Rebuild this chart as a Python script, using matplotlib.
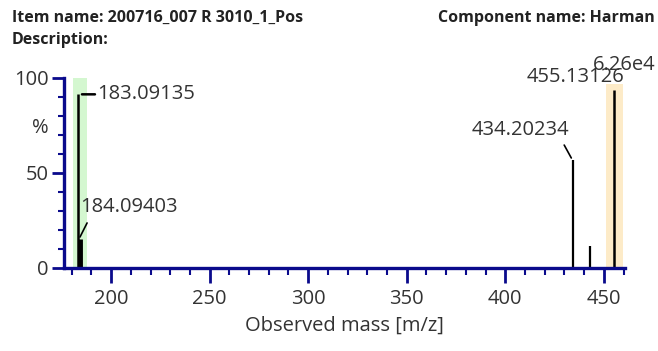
import matplotlib
matplotlib.use("Agg")
import matplotlib.pyplot as plt
from matplotlib.ticker import MultipleLocator

plt.rcParams["font.family"] = ["Open Sans", "DejaVu Sans"]

# peak list
peak_mz = [183.09135, 184.09403, 434.20234, 443.1, 455.13126]
peak_pct = [91.5, 15.0, 56.8, 11.7, 93.7]
peak_lw = [1.8, 3.5, 1.6, 1.6, 1.8]

label_mz = ["183.09135", "184.09403", "434.20234", "455.13126"]

# highlighted windows
green_win = (180.5, 187.6)
orange_win = (451.2, 459.6)

x_lim = (176.1, 460.8)
x_major = [200, 250, 300, 350, 400, 450]
y_major = [0, 50, 100]

navy = "#0a0a8c"
txt = "#333333"
fs = 14.5

fig = plt.figure(figsize=(6.58, 3.51), dpi=100)
ax = fig.add_axes([0.0973, 0.2365, 0.8527, 0.5413])

ax.axvspan(*green_win, ymin=0, ymax=1.0, color="#d4f7d0", lw=0, zorder=0)
ax.axvspan(*orange_win, ymin=0, ymax=0.97, color="#fdebc8", lw=0, zorder=0)

for mz, pct, lw in zip(peak_mz, peak_pct, peak_lw):
  ax.vlines(mz, 0, pct, color="black", lw=lw, zorder=2)

ax.set_xlim(*x_lim)
ax.set_ylim(0, 100)

for s in ["top", "right"]:
  ax.spines[s].set_visible(False)
for s in ["left", "bottom"]:
  ax.spines[s].set_color(navy)
  ax.spines[s].set_linewidth(2.4)
  ax.spines[s].set_zorder(3)

ax.set_xticks(x_major)
ax.xaxis.set_minor_locator(MultipleLocator(10))
ax.set_yticks(y_major)
ax.yaxis.set_minor_locator(MultipleLocator(10))
ax.tick_params(axis="x", which="major", length=11, width=2, color=navy, labelsize=fs, labelcolor=txt, pad=4)
ax.tick_params(axis="x", which="minor", length=5, width=1.5, color=navy)
ax.tick_params(axis="y", which="major", length=9, width=2, color=navy, labelsize=fs, labelcolor=txt, pad=2)
ax.tick_params(axis="y", which="minor", length=4, width=1.5, color=navy)

ax.set_xlabel("Observed mass [m/z]", fontsize=fs, color=txt, labelpad=5)
fig.text(40 / 658, 1 - 128 / 351, "%", fontsize=fs, color=txt, ha="center", va="center")


def leader(x0, y0, x1, y1, lw=1.2):
  ax.annotate("", xy=(x0, y0), xytext=(x1, y1),
              arrowprops=dict(arrowstyle="-", color="black", lw=lw, shrinkA=0, shrinkB=0))


# peak annotations
leader(185.2, 91.4, 191.8, 91.4, lw=1.8)
ax.text(192.9, 91.4, label_mz[0], fontsize=fs, color=txt, ha="left", va="center")

leader(184.2, 16.3, 187.8, 23.7)
ax.text(184.5, 32.0, label_mz[1], fontsize=fs, color=txt, ha="left", va="center")

leader(433.5, 57.9, 429.9, 64.7)
ax.text(407.6, 72.6, label_mz[2], fontsize=fs, color=txt, ha="center", va="center")

ax.text(460.4, 100.6, label_mz[3], fontsize=fs, color=txt, ha="right", va="center", clip_on=False)
fig.text(656 / 658, 1 - 65 / 351, "6.26e4", fontsize=fs, color=txt, ha="right", va="center")

# header
fig.text(12 / 658, 1 - 18 / 351, "Item name: 200716_007 R 3010_1_Pos", fontsize=11.5,
         fontweight="bold", color="#222222", ha="left", va="center")
fig.text(12 / 658, 1 - 40 / 351, "Description:", fontsize=11.5,
         fontweight="bold", color="#222222", ha="left", va="center")
fig.text(655 / 658, 1 - 18 / 351, "Component name: Harman", fontsize=11.5,
         fontweight="bold", color="#222222", ha="right", va="center")

fig.savefig("out.png", dpi=100)
